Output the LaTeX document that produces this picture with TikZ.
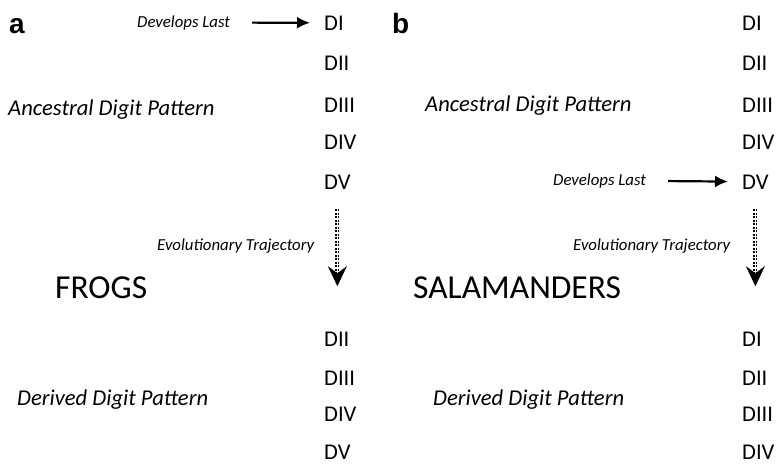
\documentclass[tikz,border=0pt]{standalone}
\usepackage{fontspec}
\setmainfont{Carlito}
\newfontfamily\panelfont{Liberation Sans}
\usetikzlibrary{arrows.meta,positioning}

\tikzset{
  digit/.style={font=\fontsize{22.5}{22}\selectfont,anchor=base west,inner sep=0pt},
  patternlab/.style={font=\fontsize{22.6}{22}\selectfont\itshape,anchor=base west,inner sep=0pt},
  note/.style={font=\fontsize{16.8}{16}\selectfont\itshape,anchor=base west,inner sep=0pt},
  grouplab/.style={font=\fontsize{33.5}{33}\selectfont,anchor=base west,inner sep=0pt},
  panel/.style={font=\fontsize{28}{28}\selectfont\panelfont\bfseries,anchor=base west,inner sep=0pt},
  devarrow/.style={line width=2.2pt,-{Latex[length=13pt,width=12pt]},shorten <=22pt,shorten >=14pt},
  traj/.style={line width=1.6pt,double distance=0.9pt,dash pattern=on 2.2pt off 1.3pt,shorten <=20pt,shorten >=10pt},
  trajhead/.style={line width=1pt,-{Stealth[length=20pt,width=19pt,inset=7pt]}}
}

\begin{document}
\begin{tikzpicture}[x=1pt,y=-1pt]
  \useasboundingbox (0,0) rectangle (776,466);
  % panel a: frogs
  \node[panel] (a) at (9,33) {a};
  \node[digit] (aDI) at (324,30) {DI};
  \node[digit] (aDII) at (324,70) {DII};
  \node[digit] (aDIII) at (324,112) {DIII};
  \node[digit] (aDIV) at (324,149) {DIV};
  \node[digit] (aDV) at (324,189) {DV};
  \node[note] (lastA) at (137,27) {Develops Last};
  \draw[devarrow] (lastA) -- (aDI);
  \node[patternlab] (ancA) at (8,115) {Ancestral Digit Pattern};
  \coordinate[below=97pt of aDV.south] (tipA);
  \draw[traj] (aDV.south) -- (tipA);
  \draw[trajhead] (tipA) ++(0,-3) -- (tipA);
  \node[note] (evoA) at (157,250) {Evolutionary Trajectory};
  \node[grouplab] (frogs) at (55,298) {FROGS};
  \node[digit] (aEII) at (324,346) {DII};
  \node[digit] (aEIII) at (324,385) {DIII};
  \node[digit] (aEIV) at (324,421) {DIV};
  \node[digit] (aEV) at (324,459) {DV};
  \node[patternlab] (derA) at (17,405) {Derived Digit Pattern};
  % panel b: salamanders
  \node[panel] (b) at (392,33) {b};
  \node[digit] (bDI) at (742,30) {DI};
  \node[digit] (bDII) at (742,70) {DII};
  \node[digit] (bDIII) at (742,112) {DIII};
  \node[digit] (bDIV) at (742,149) {DIV};
  \node[digit] (bDV) at (742,189) {DV};
  \node[patternlab] (ancB) at (425,111) {Ancestral Digit Pattern};
  \node[note] (lastB) at (553,185) {Develops Last};
  \draw[devarrow] (lastB) -- (bDV);
  \coordinate[below=97pt of bDV.south] (tipB);
  \draw[traj] (bDV.south) -- (tipB);
  \draw[trajhead] (tipB) ++(0,-3) -- (tipB);
  \node[note] (evoB) at (573,250) {Evolutionary Trajectory};
  \node[grouplab] (salam) at (413,298) {SALAMANDERS};
  \node[digit] (bEI) at (742,346) {DI};
  \node[digit] (bEII) at (742,385) {DII};
  \node[digit] (bEIII) at (742,421) {DIII};
  \node[digit] (bEIV) at (742,459) {DIV};
  \node[patternlab] (derB) at (433,405) {Derived Digit Pattern};
\end{tikzpicture}
\end{document}
